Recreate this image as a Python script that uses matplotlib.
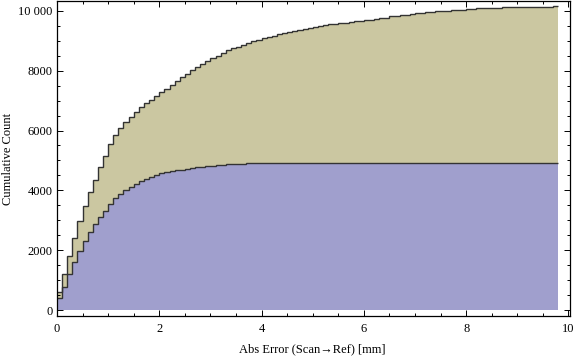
import numpy as np
import matplotlib
matplotlib.use("Agg")
import matplotlib.pyplot as plt
from matplotlib.ticker import MultipleLocator, FuncFormatter

# Bin edges: 0.0 .. 9.8 mm, width 0.1 mm
bin_width = 0.1
n_bins = 98

# Cumulative count of the lower (blue) series per bin
blue_cum = [391, 759, 1194, 1605, 1973, 2318, 2619, 2886, 3100, 3311,
            3555, 3736, 3880, 4003, 4110, 4203, 4304, 4371, 4438, 4505,
            4572, 4615, 4649, 4672, 4685, 4706, 4739, 4773, 4780, 4806,
            4815, 4849, 4855, 4875, 4883, 4885, 4890, 4900, 4903, 4903,
            4903, 4903, 4903, 4903, 4903, 4903, 4903, 4903, 4903, 4903,
            4903, 4908, 4908, 4908, 4908, 4908, 4908, 4908, 4908, 4908,
            4908, 4908, 4908, 4908, 4908, 4908, 4908, 4908, 4908, 4908,
            4908, 4908, 4908, 4908, 4908, 4908, 4908, 4908, 4908, 4908,
            4908, 4908, 4908, 4908, 4908, 4908, 4908, 4908, 4908, 4908,
            4908, 4908, 4908, 4908, 4908, 4908, 4908, 4908]

# Stacked cumulative total (top of tan series) per bin
top_cum = [592, 1194, 1816, 2398, 2966, 3478, 3936, 4348, 4773, 5140,
           5542, 5843, 6087, 6277, 6444, 6612, 6779, 6913, 7035, 7167,
           7291, 7401, 7515, 7659, 7783, 7893, 8017, 8127, 8240, 8328,
           8410, 8495, 8595, 8690, 8763, 8806, 8852, 8919, 8986, 9030,
           9087, 9130, 9174, 9221, 9264, 9298, 9341, 9375, 9398, 9431,
           9465, 9488, 9522, 9555, 9577, 9589, 9600, 9621, 9645, 9660,
           9689, 9700, 9722, 9766, 9776, 9815, 9833, 9860, 9876, 9900,
           9922, 9940, 9956, 9975, 9989, 10000, 10010, 10015, 10033, 10040,
           10060, 10067, 10080, 10090, 10090, 10095, 10100, 10115, 10118, 10120,
           10122, 10124, 10126, 10128, 10130, 10130, 10132, 10157]

x_ticks = [0, 2, 4, 6, 8, 10]
y_ticks = [0, 2000, 4000, 6000, 8000, 10000]
x_label = "Abs Error (Scan\u2192Ref) [mm]"
y_label = "Cumulative Count"

blue_color = "#A09FCD"
tan_color = "#CBC7A1"
line_color = "#333333"

plt.rcParams['font.family'] = ['Liberation Serif', 'DejaVu Serif']

fig = plt.figure(figsize=(5.76, 3.57), dpi=100)
ax = fig.add_axes([57/576, 1 - 316/357, (570-57)/576, (316-1)/357])

edges = np.arange(n_bins + 1) * bin_width
blue = np.array(blue_cum)
top = np.array(top_cum)

ax.stairs(blue, edges, baseline=0, fill=True, facecolor=blue_color, edgecolor='none', linewidth=0)
ax.stairs(top, edges, baseline=blue, fill=True, facecolor=tan_color, edgecolor='none', linewidth=0)
ax.stairs(blue, edges, baseline=None, color=line_color, linewidth=1.0)
ax.stairs(top, edges, baseline=None, color=line_color, linewidth=1.0)

ax.set_xlim(0, 10.03)
ax.set_ylim(-200, 10330)

ax.set_xticks(x_ticks)
ax.set_yticks(y_ticks)
ax.xaxis.set_minor_locator(MultipleLocator(0.5))
ax.yaxis.set_minor_locator(MultipleLocator(500))

def yfmt(v, pos):
    v = int(round(v))
    if v >= 10000:
        return f"{v:,}".replace(",", " ")
    return str(v)
ax.yaxis.set_major_formatter(FuncFormatter(yfmt))

ax.tick_params(which='both', direction='in', top=True, right=True, labelsize=9, width=0.7, color='black')
ax.tick_params(which='major', length=4)
ax.tick_params(which='minor', length=2.2)
ax.tick_params(axis='x', pad=5)
ax.tick_params(axis='y', pad=3)

for s in ax.spines.values():
    s.set_linewidth(0.9)
    s.set_color('black')

ax.set_xlabel(x_label, fontsize=9)
ax.set_ylabel(y_label, fontsize=9)
ax.xaxis.set_label_coords(0.497, -0.088)
ax.yaxis.set_label_coords(-0.084, 0.5)

fig.savefig("out.png", dpi=100)
